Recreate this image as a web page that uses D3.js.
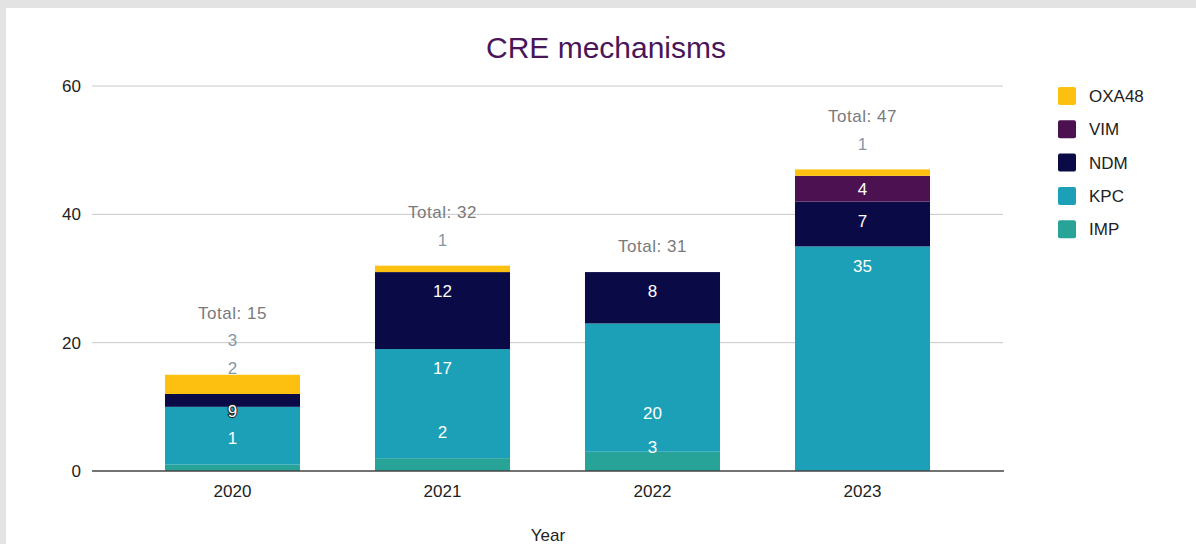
<!DOCTYPE html>
<html>
<head>
<meta charset="utf-8">
<script src="https://cdn.jsdelivr.net/npm/d3@7"></script>
<style>
  body { margin: 0; background: #e3e3e3; }
  #chart { position: absolute; left: 6px; top: 8px; }
  text { font-family: "Liberation Sans", Arial, sans-serif; }
</style>
</head>
<body>
<div id="chart"></div>
<script>
// data
var years = ["2020", "2021", "2022", "2023"];
var mechanisms = ["IMP", "KPC", "NDM", "VIM", "OXA48"];
var IMP   = [1, 2, 3, 0];
var KPC   = [9, 17, 20, 35];
var NDM   = [2, 12, 8, 7];
var VIM   = [0, 0, 0, 4];
var OXA48 = [3, 1, 0, 1];
var yTicks = [0, 20, 40, 60];
var legendOrder = ["OXA48", "VIM", "NDM", "KPC", "IMP"];

var colors = {
  IMP: "#27a497",
  KPC: "#1ba0b8",
  NDM: "#0a0a47",
  VIM: "#4c1151",
  OXA48: "#fdc010"
};

var seriesVals = { IMP: IMP, KPC: KPC, NDM: NDM, VIM: VIM, OXA48: OXA48 };

var rows = years.map(function(y, i){
  var r = { year: y };
  mechanisms.forEach(function(m){ r[m] = seriesVals[m][i]; });
  r.total = mechanisms.reduce(function(s, m){ return s + r[m]; }, 0);
  return r;
});

// where the sheet put its value labels (in axis units, per year)
var labelAt = {
  IMP:   [5.1, 6.1, 3.7, null],
  KPC:   [9.35, 16, 9, 32],
  NDM:   [16, 28, 28, 39],
  VIM:   [null, null, null, 44],
  OXA48: [20.4, 36, null, 51]
};
var totalAt = [24.6, 40.4, 35, 55.3];

var W = 1190, H = 536;
var svg = d3.select("#chart").append("svg")
    .attr("width", W)
    .attr("height", H)
    .style("background", "#fff");

var x = d3.scaleBand()
    .domain(years)
    .range([121.5, 961.5])
    .paddingInner(0.357)
    .paddingOuter(0.1785);

var y = d3.scaleLinear()
    .domain([0, 60])
    .range([463, 78]);

// title
svg.append("text")
    .attr("x", 600)
    .attr("y", 50)
    .attr("text-anchor", "middle")
    .attr("fill", "#4a1658")
    .style("font-size", "30px")
    .text("CRE mechanisms");

// gridlines
svg.append("g")
    .selectAll("line")
    .data(yTicks.filter(function(t){ return t > 0; }))
    .enter()
    .append("line")
    .attr("x1", 86).attr("x2", 997)
    .attr("y1", function(d){ return y(d); })
    .attr("y2", function(d){ return y(d); })
    .attr("stroke", "#c8c8c8")
    .attr("stroke-width", 1);

// y tick labels
svg.append("g")
    .selectAll("text")
    .data(yTicks)
    .enter()
    .append("text")
    .attr("x", 75)
    .attr("y", function(d){ return y(d); })
    .attr("dy", "0.35em")
    .attr("text-anchor", "end")
    .attr("fill", "#222")
    .style("font-size", "17px")
    .text(function(d){ return d; });

// stacked bars
var stack = d3.stack().keys(mechanisms);
var layers = stack(rows);

svg.append("g")
    .selectAll("g")
    .data(layers)
    .enter()
    .append("g")
    .attr("fill", function(d){ return colors[d.key]; })
    .selectAll("rect")
    .data(function(d){ return d; })
    .enter()
    .append("rect")
    .attr("x", function(d){ return x(d.data.year); })
    .attr("width", x.bandwidth())
    .attr("y", function(d){ return y(d[1]); })
    .attr("height", function(d){ return y(d[0]) - y(d[1]); });

// x axis line
svg.append("line")
    .attr("x1", 86).attr("x2", 998)
    .attr("y1", y(0)).attr("y2", y(0))
    .attr("stroke", "#444")
    .attr("stroke-width", 1.5);

// x tick labels
svg.append("g")
    .selectAll("text")
    .data(years)
    .enter()
    .append("text")
    .attr("x", function(d){ return x(d) + x.bandwidth() / 2; })
    .attr("y", 483)
    .attr("dy", "0.35em")
    .attr("text-anchor", "middle")
    .attr("fill", "#222")
    .style("font-size", "17px")
    .text(function(d){ return d; });

svg.append("text")
    .attr("x", 542)
    .attr("y", 533)
    .attr("text-anchor", "middle")
    .attr("fill", "#222")
    .style("font-size", "17px")
    .text("Year");

// value labels
var labels = [];
mechanisms.forEach(function(m){
  rows.forEach(function(r, i){
    if (r[m] > 0 && labelAt[m][i] != null) {
      labels.push({ year: r.year, value: r[m], at: labelAt[m][i], inside: labelAt[m][i] < r.total, key: m });
    }
  });
});

svg.append("g")
    .selectAll("text")
    .data(labels)
    .enter()
    .append("text")
    .attr("x", function(d){ return x(d.year) + x.bandwidth() / 2; })
    .attr("y", function(d){ return y(d.at); })
    .attr("dy", "0.35em")
    .attr("text-anchor", "middle")
    .attr("fill", function(d){ return d.inside ? "#fff" : "#8597a6"; })
    .attr("stroke", function(d){ return (d.year == "2020" && d.key == "KPC") ? "#1a1a1a" : "none"; })
    .attr("stroke-width", 2)
    .attr("paint-order", "stroke")
    .style("font-size", "17px")
    .text(function(d){ return d.value; });

// totals
svg.append("g")
    .selectAll("text")
    .data(rows)
    .enter()
    .append("text")
    .attr("x", function(d){ return x(d.year) + x.bandwidth() / 2; })
    .attr("y", function(d, i){ return y(totalAt[i]); })
    .attr("dy", "0.35em")
    .attr("text-anchor", "middle")
    .attr("fill", "#7a7a7a")
    .style("font-size", "17px")
    .style("letter-spacing", "0.5px")
    .text(function(d){ return "Total: " + d.total; });

// legend
var legend = svg.append("g")
    .selectAll("g")
    .data(legendOrder)
    .enter()
    .append("g")
    .attr("transform", function(d, i){ return "translate(1052," + (79 + i * 33.3) + ")"; });

legend.append("rect")
    .attr("width", 18)
    .attr("height", 18)
    .attr("rx", 2)
    .attr("fill", function(d){ return colors[d]; });

legend.append("text")
    .attr("x", 31)
    .attr("y", 9)
    .attr("dy", "0.35em")
    .attr("fill", "#222")
    .style("font-size", "17px")
    .text(function(d){ return d; });
</script>
</body>
</html>
